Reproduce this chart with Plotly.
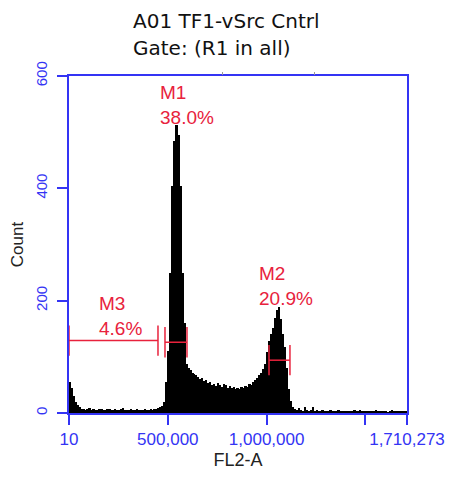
import plotly.graph_objects as go
import numpy as np

# ---------------- data ----------------
title_lines = ["A01 TF1-vSrc Cntrl", "Gate: (R1 in all)"]
x_title = "FL2-A"
y_title = "Count"

bin_start = 10
bin_width = 10000
counts = [
    56, 44, 30, 20, 14, 10,
    8, 7, 6, 7, 9, 6, 7, 5, 6, 8, 7, 6, 5, 7, 8, 6, 6, 7, 5, 6,
    7, 9, 6, 5, 6, 7, 5, 6, 8, 6, 5, 6, 7, 6, 5, 7, 6, 8, 7, 9, 10,
    12, 20, 55, 110, 250, 405, 485, 512, 495, 405, 250, 160, 88,
    80, 77, 72, 70, 67, 64, 60, 62, 57, 58, 54, 55, 50, 52, 48, 53,
    50, 47, 52, 49, 45, 48, 44, 47, 43, 45, 42, 46, 44, 48, 47, 52,
    50, 55, 58, 62, 67, 72, 78, 88, 108, 128, 140, 152, 170, 184,
    188, 168, 140, 118, 80, 42, 22, 10, 7,
    6, 9, 5, 4, 11, 5, 4, 6, 10, 4, 5, 4, 3, 5, 4, 3, 4, 6, 3, 4,
    3, 5, 3, 4, 3, 2, 4, 3, 3, 5, 4, 3, 6, 3, 2, 3, 4, 3, 2, 3,
    5, 3, 2, 4, 3, 2, 1, 3, 5, 2, 3, 4, 2, 3, 4, 3,
]

x_range = [10, 1710273]
y_range = [0, 600]
x_tickvals = [10, 500000, 1000000, 1500000, 1710273]
x_ticktext = ["10", "500,000", "1,000,000", "", "1,710,273"]
y_tickvals = [0, 200, 400, 600]
y_ticktext = ["0", "200", "400", "600"]
top_tickvals = [777000, 1243000]

marker_names = ["M1", "M2", "M3"]
marker_pcts = ["38.0%", "20.9%", "4.6%"]
marker_lo = [485700, 1012000, 10]
marker_hi = [597000, 1118000, 450300]
marker_y = [126, 94, 129]
label_x = [456000, 956000, 148000]
label_y = [548, 226, 173]      # centre of the two-line label block

# ---------------- styles ----------------
BLUE = "#3434f4"
RED = "#e8223c"
TICK_HALF = 27  # half height of marker end ticks (counts)

centers = [bin_start + (i + 0.5) * bin_width for i in range(len(counts))]

fig = go.Figure()
fig.add_trace(go.Bar(
    x=centers, y=counts, width=bin_width,
    marker=dict(color="black", line=dict(width=0)),
    hoverinfo="skip", showlegend=False,
))

for lo, hi, yv in zip(marker_lo, marker_hi, marker_y):
    xs = [lo, hi, None, lo, lo, None, hi, hi]
    ys = [yv, yv, None, yv - TICK_HALF, yv + TICK_HALF, None, yv - TICK_HALF, yv + TICK_HALF]
    fig.add_trace(go.Scatter(x=xs, y=ys, mode="lines",
                             line=dict(color=RED, width=1.5),
                             hoverinfo="skip", showlegend=False))

lab_font = dict(family="Liberation Sans, Arial", size=19, color=RED)
for nm, pc, lx, ly in zip(marker_names, marker_pcts, label_x, label_y):
    fig.add_annotation(x=lx, y=ly, text=f"{nm}<br>{pc}", showarrow=False,
                       xanchor="left", yanchor="middle", align="left",
                       borderpad=0, font=lab_font)

title_font = dict(family="DejaVu Sans", size=20, color="#111111")
for t, yp in zip(title_lines, [1.162, 1.082]):
    fig.add_annotation(xref="paper", yref="paper", x=0.183, y=yp, text=t,
                       showarrow=False, xanchor="left", yanchor="middle",
                       font=title_font)

fig.update_layout(
    width=449, height=477,
    margin=dict(l=69, r=42, t=76, b=64, pad=0),
    paper_bgcolor="white", plot_bgcolor="white",
    bargap=0, showlegend=False,
    xaxis=dict(range=x_range, tickvals=x_tickvals, ticktext=x_ticktext,
               automargin=False,
               showgrid=False, zeroline=False, showline=True, linecolor=BLUE,
               linewidth=2, mirror=True, ticks="outside", ticklen=10,
               tickcolor=BLUE, tickwidth=2,
               tickfont=dict(family="Liberation Sans, Arial", size=17, color=BLUE),
               title=dict(text=x_title, standoff=5,
                          font=dict(family="Liberation Sans, Arial", size=18, color="#222"))),
    xaxis2=dict(range=x_range, overlaying="x", side="top", tickvals=top_tickvals,
                automargin=False,
                ticktext=["", ""], showgrid=False, zeroline=False, showline=False,
                ticks="outside", ticklen=3, tickcolor="#999", tickwidth=1),
    yaxis=dict(range=y_range, tickvals=y_tickvals, ticktext=y_ticktext,
               automargin=False,
               showgrid=False, zeroline=False, showline=True, linecolor=BLUE,
               linewidth=2, mirror=True, ticks="outside", ticklen=10,
               tickcolor=BLUE, tickwidth=2, tickangle=-90, ticklabelstandoff=4,
               tickfont=dict(family="Liberation Sans, Arial", size=15, color=BLUE),
               title=dict(text=y_title, standoff=5,
                          font=dict(family="Liberation Sans, Arial", size=17, color="#222"))),
)
# dummy invisible trace to activate the top axis
fig.add_trace(go.Scatter(x=[None], y=[None], xaxis="x2", showlegend=False, hoverinfo="skip"))

fig.write_html("out.html")
